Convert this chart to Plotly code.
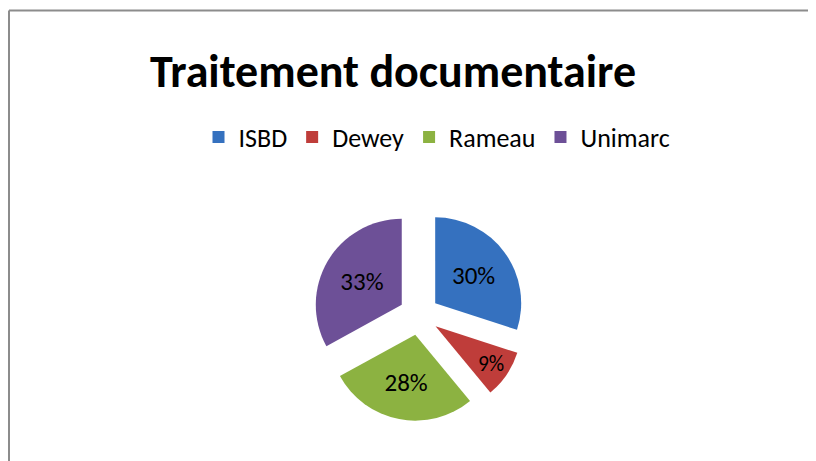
import plotly.graph_objects as go

labels = ["ISBD", "Dewey", "Rameau", "Unimarc"]
values = [30, 9, 28, 33]
colors = ["#3571bf", "#bf3d3a", "#8cb241", "#6d5097"]
pulls = [0.233, 0.233, 0.233, 0.233]
title_text = "Traitement documentaire"

# page has an 8px body margin; figure sized to fill the rest of the window
OFF = 8
W, H = 816 - OFF, 461 - OFF
FONT = "Calibri, Carlito, Lato, sans-serif"

cx, cy, half = 419 - OFF, 315 - OFF, 106

fig = go.Figure(go.Pie(
    labels=labels,
    values=values,
    marker=dict(colors=colors, line=dict(width=0)),
    pull=pulls,
    sort=False,
    direction="clockwise",
    rotation=0,
    textinfo="percent",
    textposition="inside",
    insidetextorientation="horizontal",
    textfont=dict(family=FONT, size=25, color="black"),
    domain=dict(x=[(cx - half) / W, (cx + half) / W],
                y=[(H - cy - half) / H, (H - cy + half) / H]),
    hoverinfo="label+percent",
))

fig.update_layout(
    width=W, height=H,
    margin=dict(l=0, r=0, t=0, b=0),
    paper_bgcolor="white",
    plot_bgcolor="white",
    title=dict(text="<b>" + title_text + "</b>", x=(393 - OFF) / W, xanchor="center",
               xref="paper", yref="container", y=1 - (71 - OFF) / H, yanchor="middle",
               font=dict(family=FONT, size=46, color="black")),
    legend=dict(orientation="h", x=(437 - OFF) / W, xanchor="center",
                y=1 - (137 - OFF) / H, yanchor="middle",
                font=dict(family=FONT, size=26, color="black"),
                itemwidth=30, traceorder="normal"),
    shapes=[
        dict(type="line", xref="paper", yref="paper",
             x0=1 / W, x1=1 / W, y0=-1, y1=1 - 2.5 / H,
             line=dict(color="#8c8c8c", width=2)),
        dict(type="line", xref="paper", yref="paper",
             x0=1 / W, x1=3, y0=1 - 2.5 / H, y1=1 - 2.5 / H,
             line=dict(color="#8c8c8c", width=2)),
    ],
)

fig.write_html("out.html")
